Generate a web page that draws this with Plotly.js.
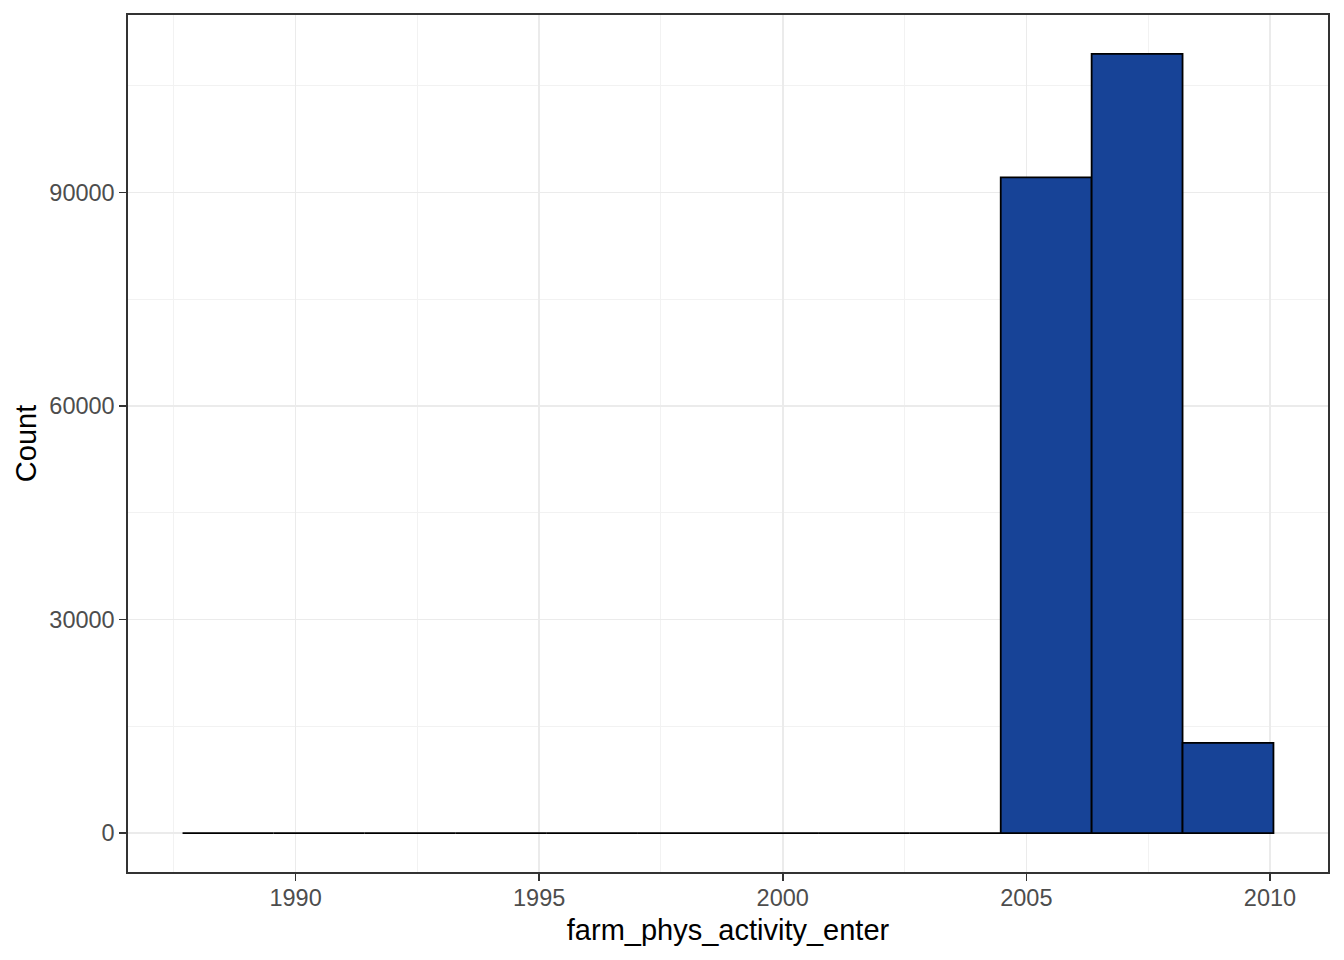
<!DOCTYPE html>
<html>
<head>
<meta charset="utf-8">
<script src="https://cdn.plot.ly/plotly-3.0.1.min.js"></script>
<style>
html,body{margin:0;padding:0;background:#fff;}
#chart{width:1344px;height:960px;}
</style>
</head>
<body>
<div id="chart"></div>
<script>
// Histogram of farm_phys_activity_enter (12 bins)
const binStart = 1987.68;
const binWidth = 1.866;
const counts = [0, 0, 0, 0, 0, 0, 0, 0, 0, 92150, 109490, 12660];
const xTickVals = [1990, 1995, 2000, 2005, 2010];
const yTickVals = [0, 30000, 60000, 90000];

const edges = counts.map((c, i) => binStart + i * binWidth);
const centers = edges.map(e => e + binWidth / 2);

// outline of empty bins along the baseline (as ggplot draws them)
const zx = [], zy = [];
counts.forEach((c, i) => {
  if (c === 0) { zx.push(edges[i], edges[i] + binWidth, null); zy.push(0, 0, null); }
});

const nonZeroX = [], nonZeroY = [];
counts.forEach((c, i) => { if (c > 0) { nonZeroX.push(centers[i]); nonZeroY.push(c); } });

const xmin = binStart, xmax = binStart + counts.length * binWidth;
const xpad = (xmax - xmin) * 0.05;
const ymax = Math.max(...counts);
const ypad = ymax * 0.05;

const traces = [
  {
    type: 'scatter', mode: 'lines', x: zx, y: zy,
    line: {color: '#000000', width: 1.8}, hoverinfo: 'skip', showlegend: false
  },
  {
    type: 'bar', x: nonZeroX, y: nonZeroY, width: binWidth,
    marker: {color: '#174397', line: {color: '#000000', width: 1.8}},
    showlegend: false
  }
];

const fontFam = '"Liberation Sans", Arial, sans-serif';
const layout = {
  width: 1344, height: 960,
  margin: {l: 128, r: 16, t: 15, b: 88},
  paper_bgcolor: '#ffffff', plot_bgcolor: '#ffffff',
  font: {family: fontFam},
  showlegend: false,
  xaxis: {
    range: [xmin - xpad, xmax + xpad],
    tickmode: 'array', tickvals: xTickVals, ticktext: xTickVals.map(String),
    ticks: 'outside', ticklen: 7, tickwidth: 1.6, tickcolor: '#333333',
    tickfont: {size: 23.5, color: '#4D4D4D', family: fontFam},
    ticklabelstandoff: -3,
    showgrid: true, gridcolor: '#EBEBEB', gridwidth: 1.5,
    minor: {dtick: 2.5, tick0: 1987.5, showgrid: true, gridcolor: '#F2F2F2', gridwidth: 1, ticks: ''},
    zeroline: false,
    showline: true, linecolor: '#333333', linewidth: 1.6, mirror: true,
    title: {text: 'farm_phys_activity_enter', font: {size: 29, color: '#000000', family: fontFam}, standoff: 10}
  },
  yaxis: {
    range: [-ypad, ymax + ypad],
    tickmode: 'array', tickvals: yTickVals, ticktext: yTickVals.map(String),
    ticks: 'outside', ticklen: 7, tickwidth: 1.6, tickcolor: '#333333',
    tickfont: {size: 23.5, color: '#4D4D4D', family: fontFam},
    ticklabelstandoff: 0,
    showgrid: true, gridcolor: '#EBEBEB', gridwidth: 1.5,
    minor: {dtick: 15000, tick0: 15000, showgrid: true, gridcolor: '#F2F2F2', gridwidth: 1, ticks: ''},
    zeroline: false,
    showline: true, linecolor: '#333333', linewidth: 1.6, mirror: true,
    title: {text: 'Count', font: {size: 29, color: '#000000', family: fontFam}, standoff: 4}
  },
  bargap: 0
};

Plotly.newPlot('chart', traces, layout, {displayModeBar: false, staticPlot: true});
</script>
</body>
</html>
